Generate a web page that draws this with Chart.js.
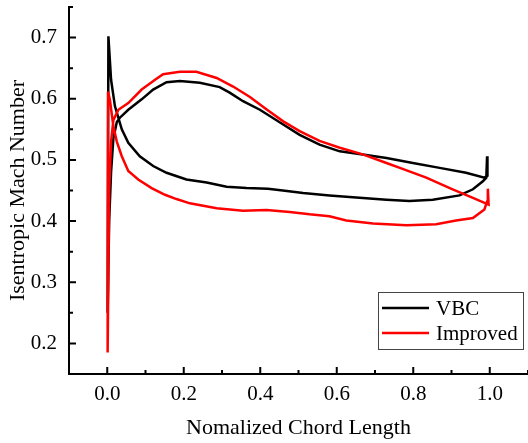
<!DOCTYPE html>
<html>
<head>
<meta charset="utf-8">
<script src="https://cdn.jsdelivr.net/npm/chart.js@4/dist/chart.umd.min.js"></script>
<style>
  body { margin: 0; background: #fff; }
  #wrap { width: 528px; height: 443px; }
</style>
</head>
<body>
<div id="wrap"><canvas id="machChart" width="528" height="443"></canvas></div>
<script>
// Isentropic Mach number vs normalized chord (closed loops, LE -> TE -> LE)
const seriesNames = ['VBC', 'Improved'];

const vbcX = [0.003, 0.010, 0.020, 0.038, 0.055, 0.085, 0.120, 0.155, 0.207, 0.260, 0.312, 0.364, 0.420,
  0.459, 0.512, 0.581, 0.642, 0.730, 0.790, 0.851, 0.921, 0.956, 0.982, 0.991, 0.993, 0.994,
  0.986, 0.938, 0.869, 0.799, 0.730, 0.668, 0.608, 0.555, 0.503, 0.460, 0.399, 0.355, 0.320, 0.294,
  0.242, 0.190, 0.155, 0.120, 0.090, 0.055, 0.033, 0.025, 0.016, 0.010, 0.005, 0.001, 0.003];
const vbcY = [0.702, 0.631, 0.588, 0.550, 0.528, 0.506, 0.490, 0.479, 0.468, 0.463, 0.456, 0.454, 0.453,
  0.450, 0.446, 0.442, 0.439, 0.435, 0.433, 0.435, 0.442, 0.452, 0.465, 0.471, 0.506, 0.474,
  0.471, 0.479, 0.487, 0.495, 0.503, 0.509, 0.514, 0.525, 0.541, 0.558, 0.582, 0.596, 0.610, 0.619,
  0.626, 0.629, 0.627, 0.615, 0.599, 0.582, 0.569, 0.562, 0.535, 0.480, 0.400, 0.250, 0.702];

const impX = [0.002, 0.007, 0.016, 0.025, 0.038, 0.055, 0.081, 0.116, 0.151, 0.181, 0.216, 0.286, 0.355,
  0.416, 0.477, 0.529, 0.581, 0.625, 0.695, 0.782, 0.860, 0.912, 0.956, 0.986, 0.993, 0.995, 0.997,
  0.956, 0.903, 0.834, 0.765, 0.730, 0.668, 0.608, 0.555, 0.503, 0.460, 0.416, 0.373, 0.329, 0.286,
  0.233, 0.190, 0.146, 0.125, 0.090, 0.055, 0.029, 0.016, 0.010, 0.005, 0.001, 0.002];
const impY = [0.612, 0.598, 0.555, 0.530, 0.506, 0.482, 0.468, 0.454, 0.443, 0.436, 0.429, 0.421, 0.417,
  0.418, 0.415, 0.411, 0.408, 0.401, 0.396, 0.393, 0.395, 0.401, 0.405, 0.419, 0.432, 0.453, 0.427,
  0.438, 0.452, 0.471, 0.487, 0.495, 0.509, 0.520, 0.531, 0.547, 0.563, 0.583, 0.603, 0.620, 0.634,
  0.644, 0.644, 0.640, 0.631, 0.615, 0.593, 0.582, 0.565, 0.530, 0.450, 0.185, 0.612];

const xTicks = [0.0, 0.2, 0.4, 0.6, 0.8, 1.0];
const yTicks = [0.2, 0.3, 0.4, 0.5, 0.6, 0.7];
const xMinor = [-0.1, 0.1, 0.3, 0.5, 0.7, 0.9, 1.1];
const yMinor = [0.15, 0.25, 0.35, 0.45, 0.55, 0.65, 0.75];

const serif = "'Liberation Serif', 'Times New Roman', serif";
const colors = ['#000000', '#ff0000'];

function toPoints(xs, ys) {
  return xs.map((x, i) => ({ x: x, y: ys[i] }));
}

// inward tick marks, like the original plotting software
const innerTicks = {
  id: 'innerTicks',
  afterDraw(chart) {
    const ctx = chart.ctx;
    const xs = chart.scales.x, ys = chart.scales.y;
    const bottom = chart.chartArea.bottom, left = chart.chartArea.left;
    ctx.save();
    ctx.strokeStyle = '#000';
    ctx.lineWidth = 2;
    ctx.beginPath();
    xTicks.forEach(v => { const p = xs.getPixelForValue(v); ctx.moveTo(p, bottom); ctx.lineTo(p, bottom - 7); });
    xMinor.forEach(v => { const p = xs.getPixelForValue(v); ctx.moveTo(p, bottom); ctx.lineTo(p, bottom - 4); });
    yTicks.forEach(v => { const p = ys.getPixelForValue(v); ctx.moveTo(left, p); ctx.lineTo(left + 7, p); });
    yMinor.forEach(v => { const p = ys.getPixelForValue(v); ctx.moveTo(left, p); ctx.lineTo(left + 4, p); });
    ctx.stroke();
    ctx.restore();
  }
};

// boxed legend in the lower right of the plot
const boxLegend = {
  id: 'boxLegend',
  afterDraw(chart) {
    const ctx = chart.ctx;
    const bx = 378, by = 292, bw = 145, bh = 57;
    ctx.save();
    ctx.fillStyle = '#fff';
    ctx.fillRect(bx, by, bw, bh);
    ctx.strokeStyle = '#444';
    ctx.lineWidth = 1;
    ctx.strokeRect(bx + 0.5, by + 0.5, bw, bh);
    ctx.font = '21px ' + serif;
    ctx.textBaseline = 'middle';
    chart.data.datasets.forEach((ds, i) => {
      const y = by + 16 + i * 25;
      ctx.strokeStyle = ds.borderColor;
      ctx.lineWidth = 2.5;
      ctx.beginPath();
      ctx.moveTo(382, y);
      ctx.lineTo(429, y);
      ctx.stroke();
      ctx.fillStyle = '#000';
      ctx.fillText(ds.label, 436, y + 1);
    });
    ctx.restore();
  }
};

new Chart(document.getElementById('machChart'), {
  type: 'scatter',
  data: {
    datasets: [
      // red drawn on top of black, as in the original
      { label: seriesNames[0], data: toPoints(vbcX, vbcY), borderColor: colors[0], backgroundColor: colors[0], order: 1 },
      { label: seriesNames[1], data: toPoints(impX, impY), borderColor: colors[1], backgroundColor: colors[1], order: 0 }
    ].map(d => Object.assign(d, { showLine: true, pointRadius: 0, borderWidth: 2.5, tension: 0 }))
  },
  options: {
    responsive: false,
    animation: false,
    devicePixelRatio: 1,
    layout: { padding: { top: 7, left: 0, right: 0, bottom: 0 } },
    plugins: { legend: { display: false }, tooltip: { enabled: false } },
    scales: {
      x: {
        type: 'linear', min: -0.1, max: 1.1,
        afterBuildTicks: s => { s.ticks = xTicks.map(v => ({ value: v })); },
        afterFit: s => { s.height = 69; s.paddingLeft = 0; s.paddingRight = 0; },
        grid: { display: false, drawTicks: false },
        border: { display: true, color: '#000', width: 2 },
        ticks: { color: '#000', padding: 8, font: { family: serif, size: 21 }, callback: v => v.toFixed(1) },
        title: { display: true, text: 'Nomalized Chord Length', color: '#000', padding: { top: 0, bottom: 2 }, font: { family: serif, size: 22 } }
      },
      y: {
        type: 'linear', min: 0.15, max: 0.75,
        afterBuildTicks: s => { s.ticks = yTicks.map(v => ({ value: v })); },
        afterFit: s => { s.width = 69; s.paddingTop = 0; s.paddingBottom = 0; },
        grid: { display: false, drawTicks: false },
        border: { display: true, color: '#000', width: 2 },
        ticks: { color: '#000', padding: 12, font: { family: serif, size: 21 }, callback: v => v.toFixed(1) },
        title: { display: true, text: 'Isentropic Mach Number', color: '#000', padding: { top: 5, bottom: 0 }, font: { family: serif, size: 22 } }
      }
    }
  },
  plugins: [innerTicks, boxLegend]
});
</script>
</body>
</html>
